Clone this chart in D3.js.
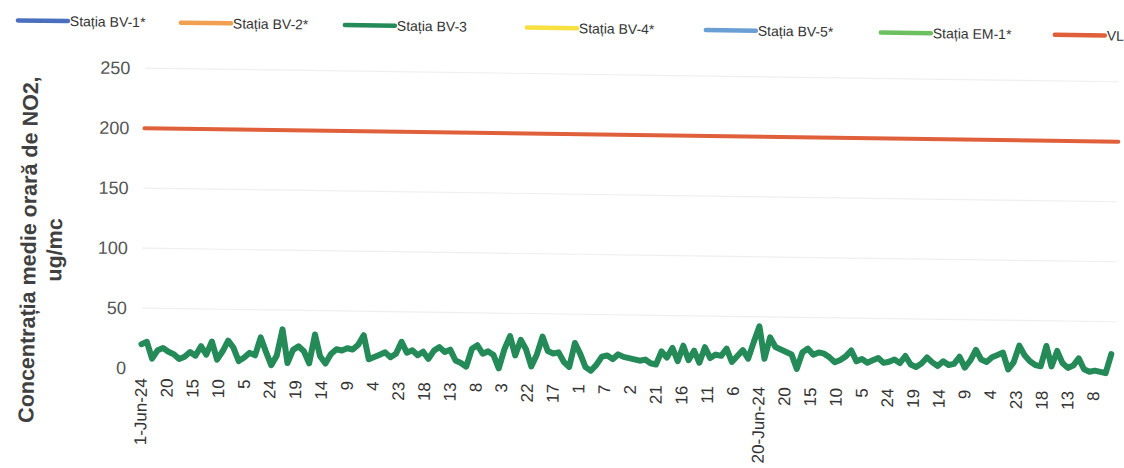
<!DOCTYPE html>
<html>
<head>
<meta charset="utf-8">
<script src="https://cdn.jsdelivr.net/npm/d3@7"></script>
<style>
  body { margin: 0; background: #fff; }
  #chart { width: 1124px; height: 468px; }
</style>
</head>
<body>
<div id="chart"></div>
<script>
// legend series (only BV-3 and VL carry data in the picture)
const seriesNames = ["Stația BV-1*", "Stația BV-2*", "Stația BV-3", "Stația BV-4*", "Stația BV-5*", "Stația EM-1*", "VL"];
const seriesColors = ["#4a6fbf", "#f0a050", "#238a58", "#f7e040", "#6a9fd6", "#6cc060", "#e0603c"];

// BV-3 hourly NO2, read every 4 hours from 1-Jun-24 01:00
const bv3Step = 4;
const bv3Values = [
  20, 22, 8, 15, 17, 14, 12, 8, 10, 14, 11, 19, 12, 23, 8, 15, 24, 18, 7, 10,
  14, 12, 27, 15, 4, 12, 34, 6, 17, 20, 16, 6, 30, 12, 6, 14, 18, 17, 19, 18,
  22, 30, 10, 12, 14, 16, 12, 15, 25, 16, 18, 14, 17, 11, 18, 21, 17, 19, 10, 8,
  5, 20, 23, 16, 18, 15, 4, 20, 31, 15, 28, 20, 6, 16, 31, 19, 17, 18, 10, 6,
  26, 17, 6, 3, 8, 15, 16, 13, 17, 15, 14, 13, 12, 13, 10, 9, 20, 15, 23, 12,
  25, 13, 21, 11, 24, 15, 18, 17, 23, 12, 17, 22, 15, 29, 42, 15, 33, 25, 23, 21,
  19, 7, 21, 24, 19, 21, 20, 17, 13, 15, 18, 23, 14, 16, 13, 15, 17, 13, 14, 16,
  13, 19, 12, 10, 13, 18, 14, 11, 15, 12, 13, 19, 10, 16, 25, 17, 15, 19, 21, 23,
  9, 15, 29, 21, 16, 13, 12, 29, 12, 25, 15, 11, 13, 19, 10, 8, 9, 8, 7, 23
];

// limit value
const vlHours = [0, 719];
const vlValues = [200, 200];

// category labels along x, one every 19 hours
const xTickStep = 19;
const xTickLabels = ["1-Jun-24", "20", "15", "10", "5", "24", "19", "14", "9", "4", "23", "18", "13", "8", "3", "22", "17", "1", "7", "2",
  "21", "16", "11", "6", "20-Jun-24", "20", "15", "10", "5", "24", "19", "14", "9", "4", "23", "18", "13", "8"];
const yTicks = [0, 50, 100, 150, 200, 250];

const width = 1124, height = 468;
const svg = d3.select("#chart").append("svg")
  .attr("width", width)
  .attr("height", height);

// the scan is tilted a little, so the whole page is drawn turned
const page = svg.append("g").attr("transform", "rotate(0.8, 562, 234)");

const x = d3.scaleLinear().domain([0, 719]).range([143, 1117]);
const y = d3.scaleLinear().domain([0, 250]).range([374, 74]);

// gridlines
page.append("g")
  .selectAll("line")
  .data(yTicks.filter(d => d > 0))
  .enter()
  .append("line")
  .attr("x1", 143).attr("x2", 1117)
  .attr("y1", d => y(d)).attr("y2", d => y(d))
  .attr("stroke", "#efefef")
  .attr("stroke-width", 1.2);

// y axis labels
const yAxis = page.append("g")
  .attr("transform", "translate(128,0)")
  .call(d3.axisLeft(y).tickValues(yTicks).tickSize(0).tickPadding(0));
yAxis.select(".domain").remove();
yAxis.selectAll("text")
  .attr("font-family", "Liberation Sans, Arial, sans-serif")
  .attr("font-size", "18px")
  .attr("fill", "#555");

// x labels, vertical
page.append("g")
  .selectAll("text")
  .data(xTickLabels)
  .enter()
  .append("text")
  .text(d => d)
  .attr("transform", (d, i) => `translate(${x(i * xTickStep) + 6},384) rotate(-90)`)
  .attr("text-anchor", "end")
  .attr("font-family", "Liberation Sans, Arial, sans-serif")
  .attr("font-size", "17px")
  .attr("fill", "#333");

// y title
const title = page.append("text")
  .attr("transform", "translate(36,257) rotate(-90)")
  .attr("text-anchor", "middle")
  .attr("font-family", "Liberation Sans, Arial, sans-serif")
  .attr("font-size", "21.5px")
  .attr("font-weight", "bold")
  .attr("fill", "#404040");
title.append("tspan").attr("x", 0).attr("dy", 0).text("Concentrația medie orară de NO2,");
title.append("tspan").attr("x", 0).attr("dy", 26).text("ug/mc");

// lines
const line = d3.line()
  .x(d => x(d[0]))
  .y(d => y(d[1]));

page.append("path")
  .datum(vlHours.map((h, i) => [h, vlValues[i]]))
  .attr("d", line)
  .attr("fill", "none")
  .attr("stroke", seriesColors[6])
  .attr("stroke-width", 4)
  .attr("stroke-linecap", "round");

page.append("path")
  .datum(bv3Values.map((v, i) => [i * bv3Step, v]))
  .attr("d", line)
  .attr("fill", "none")
  .attr("stroke", seriesColors[2])
  .attr("stroke-width", 6)
  .attr("stroke-linejoin", "round")
  .attr("stroke-linecap", "round");

// legend
const legendX = [15, 178, 342, 524, 703, 878, 1052];
const legend = page.append("g")
  .selectAll("g")
  .data(seriesNames)
  .enter()
  .append("g")
  .attr("transform", (d, i) => `translate(${legendX[i]},28)`);

legend.append("line")
  .attr("x1", 0).attr("x2", 50)
  .attr("stroke", (d, i) => seriesColors[i])
  .attr("stroke-width", 4.5)
  .attr("stroke-linecap", "round");

legend.append("text")
  .text(d => d)
  .attr("x", 52)
  .attr("dy", 5)
  .attr("font-family", "Liberation Sans, Arial, sans-serif")
  .attr("font-size", "14px")
  .attr("fill", "#333");
</script>
</body>
</html>
